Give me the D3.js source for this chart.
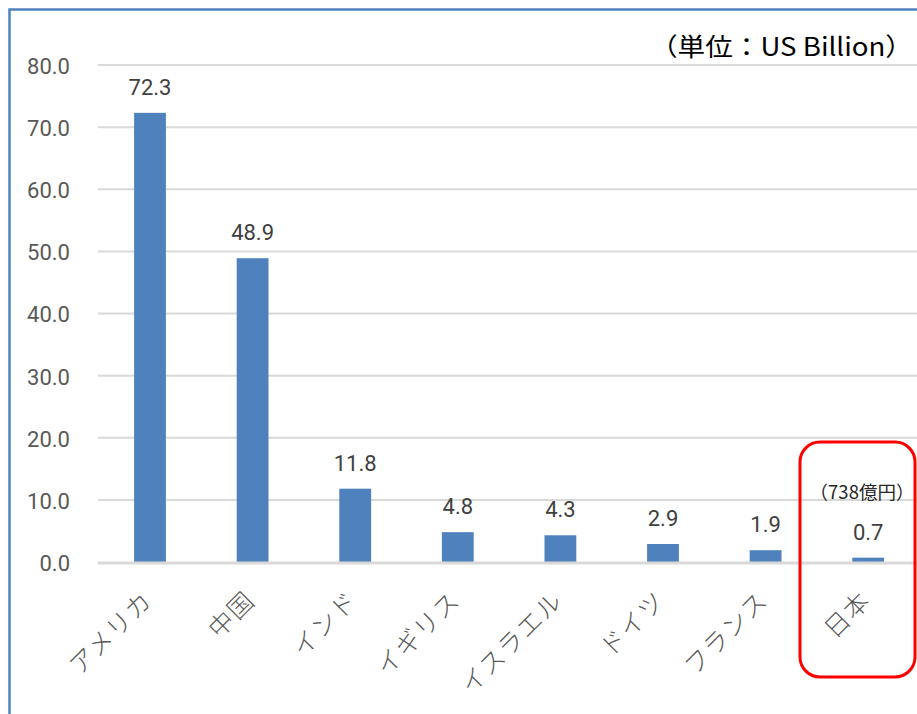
<!DOCTYPE html>
<html><head><meta charset="utf-8">
<script src="https://cdn.jsdelivr.net/npm/d3@7"></script>
<style>
html,body{margin:0;padding:0;background:#fff;}
svg{display:block;}
</style></head>
<body>
<svg id="chart" width="917" height="714"></svg>
<script>
const categories = ["アメリカ","中国","インド","イギリス","イスラエル","ドイツ","フランス","日本"];
const values = [72.3, 48.9, 11.8, 4.8, 4.3, 2.9, 1.9, 0.7];
const yTicks = [0,10,20,30,40,50,60,70,80];
const unitLabel = "（単位：US Billion）";
const noteLabel = "（738億円）";

const svg = d3.select("#chart");
const W = 917, H = 714;
const jp = "'Noto Sans CJK JP','Noto Sans',sans-serif";
const num = "Roboto,'Noto Sans',sans-serif";

// outer border
svg.append("rect").attr("x",9.5).attr("y",9.5).attr("width",W+20).attr("height",H+20)
  .attr("fill","none").attr("stroke","#4f81bd").attr("stroke-width",2.5);

const x = d3.scaleBand().domain(categories).range([98.7, 919.5]).paddingInner(0.69).paddingOuter(0.345);
const y = d3.scaleLinear().domain([0,80]).range([562,65]);

// gridlines
svg.append("g").selectAll("line").data(yTicks.filter(d=>d>0)).join("line")
  .attr("x1",98).attr("x2",W).attr("y1",d=>y(d)).attr("y2",d=>y(d))
  .attr("stroke","#d9d9d9").attr("stroke-width",2);

// y axis labels
const yAxis = d3.axisLeft(y).tickValues(yTicks).tickFormat(d3.format(".1f")).tickSize(0).tickPadding(0);
const gy = svg.append("g").attr("transform","translate(70,0)").call(yAxis);
gy.select(".domain").remove();
gy.selectAll("text").attr("font-family",num).attr("font-size",22).attr("fill","#595959").attr("dy","0.38em");

// bars
svg.append("g").selectAll("rect").data(values).join("rect")
  .attr("x",(d,i)=>x(categories[i])).attr("width",x.bandwidth())
  .attr("y",d=>y(d)).attr("height",d=>y(0)-y(d))
  .attr("fill","#4f81bd");

// baseline
svg.append("line").attr("x1",98).attr("x2",W).attr("y1",y(0)+1).attr("y2",y(0)+1)
  .attr("stroke","#d9d9d9").attr("stroke-width",3);

// value labels
svg.append("g").selectAll("text").data(values).join("text")
  .attr("x",(d,i)=>x(categories[i])+x.bandwidth()/2)
  .attr("y",d=>y(d)-18)
  .attr("text-anchor","middle").attr("font-family",num).attr("font-size",22).attr("fill","#404040")
  .text(d=>d3.format(".1f")(d));

// x labels
const xAxis = d3.axisBottom(x).tickSize(0).tickPadding(0);
const gx = svg.append("g").call(xAxis);
gx.select(".domain").remove();
gx.selectAll(".tick").attr("transform",d=>`translate(${x(d)+x.bandwidth()/2+4},602)`);
gx.selectAll("text").attr("y",0).attr("dy",0).attr("transform","rotate(-45)")
  .attr("text-anchor","end").attr("font-family",jp).attr("font-size",25).attr("font-weight",300)
  .attr("letter-spacing",1.5).attr("fill","#595959");

// unit label
svg.append("text").attr("x",650).attr("y",56)
  .attr("textLength",263).attr("lengthAdjust","spacingAndGlyphs")
  .attr("font-family",jp).attr("font-size",25).attr("fill","#000").text(unitLabel);

// highlight box
svg.append("rect").attr("x",800).attr("y",442).attr("width",115).attr("height",235)
  .attr("rx",20).attr("ry",20).attr("fill","none").attr("stroke","#ff0000").attr("stroke-width",3);
svg.append("text").attr("x",862).attr("y",499).attr("text-anchor","middle")
  .attr("font-family",jp).attr("font-size",18.5).attr("fill","#262626").text(noteLabel);
</script>
</body></html>
